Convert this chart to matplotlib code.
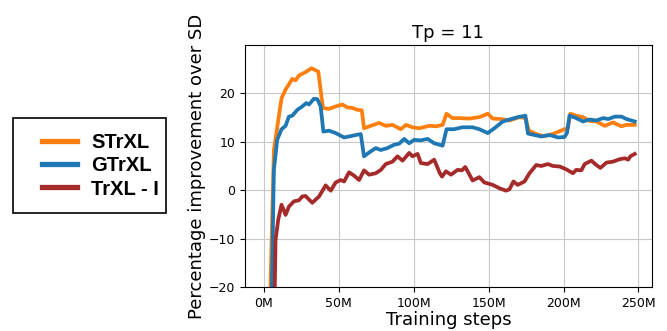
import matplotlib
matplotlib.use("Agg")
import matplotlib.pyplot as plt
from matplotlib.patches import Rectangle

title = "Tp = 11"
xlabel = "Training steps"
ylabel = "Percentage improvement over SD"
xticks = [0, 50, 100, 150, 200, 250]
xticklabels = ["0M", "50M", "100M", "150M", "200M", "250M"]
yticks = [-20, -10, 0, 10, 20]

strxl_x = [3.0, 6.9, 12.0, 14.7, 19.2, 21.4, 23.6, 28.0, 32.0, 36.5, 39.6, 43.6, 48.0, 52.6, 55.9,
           59.2, 62.6, 65.5, 67.0, 71.5, 77.0, 81.5, 86.0, 91.5, 95.0, 99.3, 103.8, 110.5, 115.0,
           119.4, 122.0, 126.0, 130.5, 137.2, 143.9, 149.5, 152.8, 158.4, 164.0, 170.6, 174.6,
           176.9, 181.8, 186.2, 190.7, 195.2, 200.7, 202.9, 204.5, 208.5, 213.0, 217.4, 221.9,
           227.5, 233.0, 238.6, 241.9, 247.5]
strxl_y = [-40.0, 8.3, 19.0, 20.8, 23.0, 22.7, 23.7, 24.4, 25.2, 24.5, 17.0, 16.8, 17.3, 17.7, 17.1,
           17.0, 16.6, 16.5, 12.8, 13.3, 13.9, 13.3, 13.5, 12.6, 13.5, 13.0, 12.8, 13.3, 13.2,
           13.5, 15.8, 14.9, 14.9, 14.8, 15.1, 15.8, 14.8, 14.7, 14.4, 15.1, 14.9,
           12.3, 11.6, 11.2, 11.4, 11.9, 12.6, 12.8, 15.8, 15.4, 15.1, 14.3, 14.2,
           13.3, 14.0, 13.2, 13.5, 13.5]

gtrxl_x = [4.5, 6.9, 9.1, 12.0, 14.7, 16.9, 19.2, 22.5, 25.8, 28.5, 30.3, 33.6, 35.9, 38.1, 39.9,
           43.7, 48.1, 53.7, 57.0, 61.5, 64.8, 67.0, 70.4, 74.8, 78.2, 82.6, 87.1, 90.4, 93.8,
           97.1, 100.4, 104.9, 109.4, 113.8, 119.4, 122.0, 127.0, 132.7, 139.4, 143.9, 149.5,
           153.9, 159.5, 164.0, 169.5, 174.6, 176.3, 180.8, 185.2, 190.7, 196.3, 200.7, 202.3,
           204.0, 208.5, 213.0, 217.4, 221.9, 226.4, 229.8, 234.2, 238.7, 242.0, 247.5]
gtrxl_y = [-40.0, 4.2, 10.4, 12.6, 13.3, 15.2, 15.4, 16.6, 17.3, 18.0, 17.7, 18.9, 18.8, 17.3, 12.1,
           12.3, 11.8, 10.9, 11.1, 11.4, 11.6, 7.0, 7.8, 8.7, 8.3, 8.7, 9.4, 9.6, 10.6,
           9.7, 10.4, 10.3, 10.6, 9.7, 9.2, 12.6, 12.6, 13.0, 13.0, 12.6, 11.8,
           12.8, 14.2, 14.6, 15.1, 15.4, 11.7, 11.4, 11.1, 11.4, 10.9, 11.0, 11.8,
           15.4, 14.9, 14.2, 14.6, 14.4, 14.9, 14.7, 15.2, 15.2, 14.7, 14.2]

trxl_x = [6.5, 8.0, 9.8, 12.0, 14.7, 16.9, 20.3, 23.6, 25.8, 28.0, 32.5, 37.0, 41.4, 44.8, 48.1,
          51.4, 53.7, 57.0, 60.4, 63.7, 67.0, 70.4, 74.8, 78.2, 81.5, 86.0, 89.3, 92.7, 97.1,
          99.3, 102.7, 104.9, 109.4, 113.8, 117.4, 119.0, 121.6, 125.0, 129.4, 132.3, 134.5,
          139.4, 143.9, 147.2, 152.8, 157.3, 161.7, 164.0, 166.6, 169.5, 174.0, 177.3, 181.8,
          185.2, 189.6, 193.0, 197.4, 201.9, 206.3, 208.5, 211.9, 214.1, 218.6, 221.9, 224.6,
          228.6, 233.0, 237.5, 240.9, 243.1, 244.6, 247.5]
trxl_y = [-40.0, -10.3, -6.1, -3.0, -5.1, -3.4, -2.3, -2.1, -1.3, -1.2, -2.6, -1.3, 1.0, -0.1, 1.6,
          2.1, 1.8, 3.7, 3.0, 2.1, 4.1, 3.2, 3.5, 4.2, 5.4, 5.9, 7.0, 6.1, 7.7,
          7.0, 7.5, 5.6, 5.4, 6.3, 3.6, 2.8, 3.9, 3.2, 4.2, 4.1, 4.8,
          2.0, 2.7, 1.6, 1.1, 0.4, -0.1, 0.2, 1.8, 1.1, 1.8, 3.5, 5.2,
          5.0, 5.4, 5.0, 4.9, 4.3, 3.5, 4.2, 4.1, 5.4, 6.1, 5.2, 4.6,
          5.7, 5.9, 6.4, 6.6, 6.3, 7.0, 7.5]

series = [
    ("STrXL", strxl_x, strxl_y, "#ff7f0e"),
    ("GTrXL", gtrxl_x, gtrxl_y, "#1f77b4"),
    ("TrXL - I", trxl_x, trxl_y, "#a52a2a"),
]

fig = plt.figure(figsize=(6.67, 3.31), dpi=100)
ax = fig.add_axes([0.367, 0.133, 0.6105, 0.731])

handles = []
for name, xs, ys, col in series:
    h, = ax.plot(xs, ys, color=col, lw=2.7, label=name, solid_joinstyle="round")
    handles.append(h)

ax.set_xlim(-12.5, 259)
ax.set_ylim(-20, 30)
ax.set_xticks(xticks)
ax.set_xticklabels(xticklabels)
ax.set_yticks(yticks)
ax.tick_params(labelsize=9)
ax.grid(True, color="#c8c8c8", lw=0.8)
ax.set_axisbelow(True)
ax.set_title(title, fontsize=13, pad=5)
ax.set_xlabel(xlabel, fontsize=13, labelpad=1)
ax.set_ylabel(ylabel, fontsize=13, labelpad=2)

leg = fig.legend(handles=handles, loc="center left", bbox_to_anchor=(42 / 667, 1 - 166 / 331),
                 prop={"family": "Liberation Sans", "weight": "bold", "size": 14.5},
                 frameon=False, handlelength=1.75, handletextpad=0.7, labelspacing=0.2,
                 borderpad=0, borderaxespad=0)
for l in leg.get_lines():
    l.set_linewidth(3.8)

fig.patches.append(Rectangle((13 / 667, 1 - 213 / 331), 153 / 667, 95 / 331,
                             transform=fig.transFigure, fill=False, edgecolor="black",
                             linewidth=1.2))

fig.savefig("out.png", dpi=100)
